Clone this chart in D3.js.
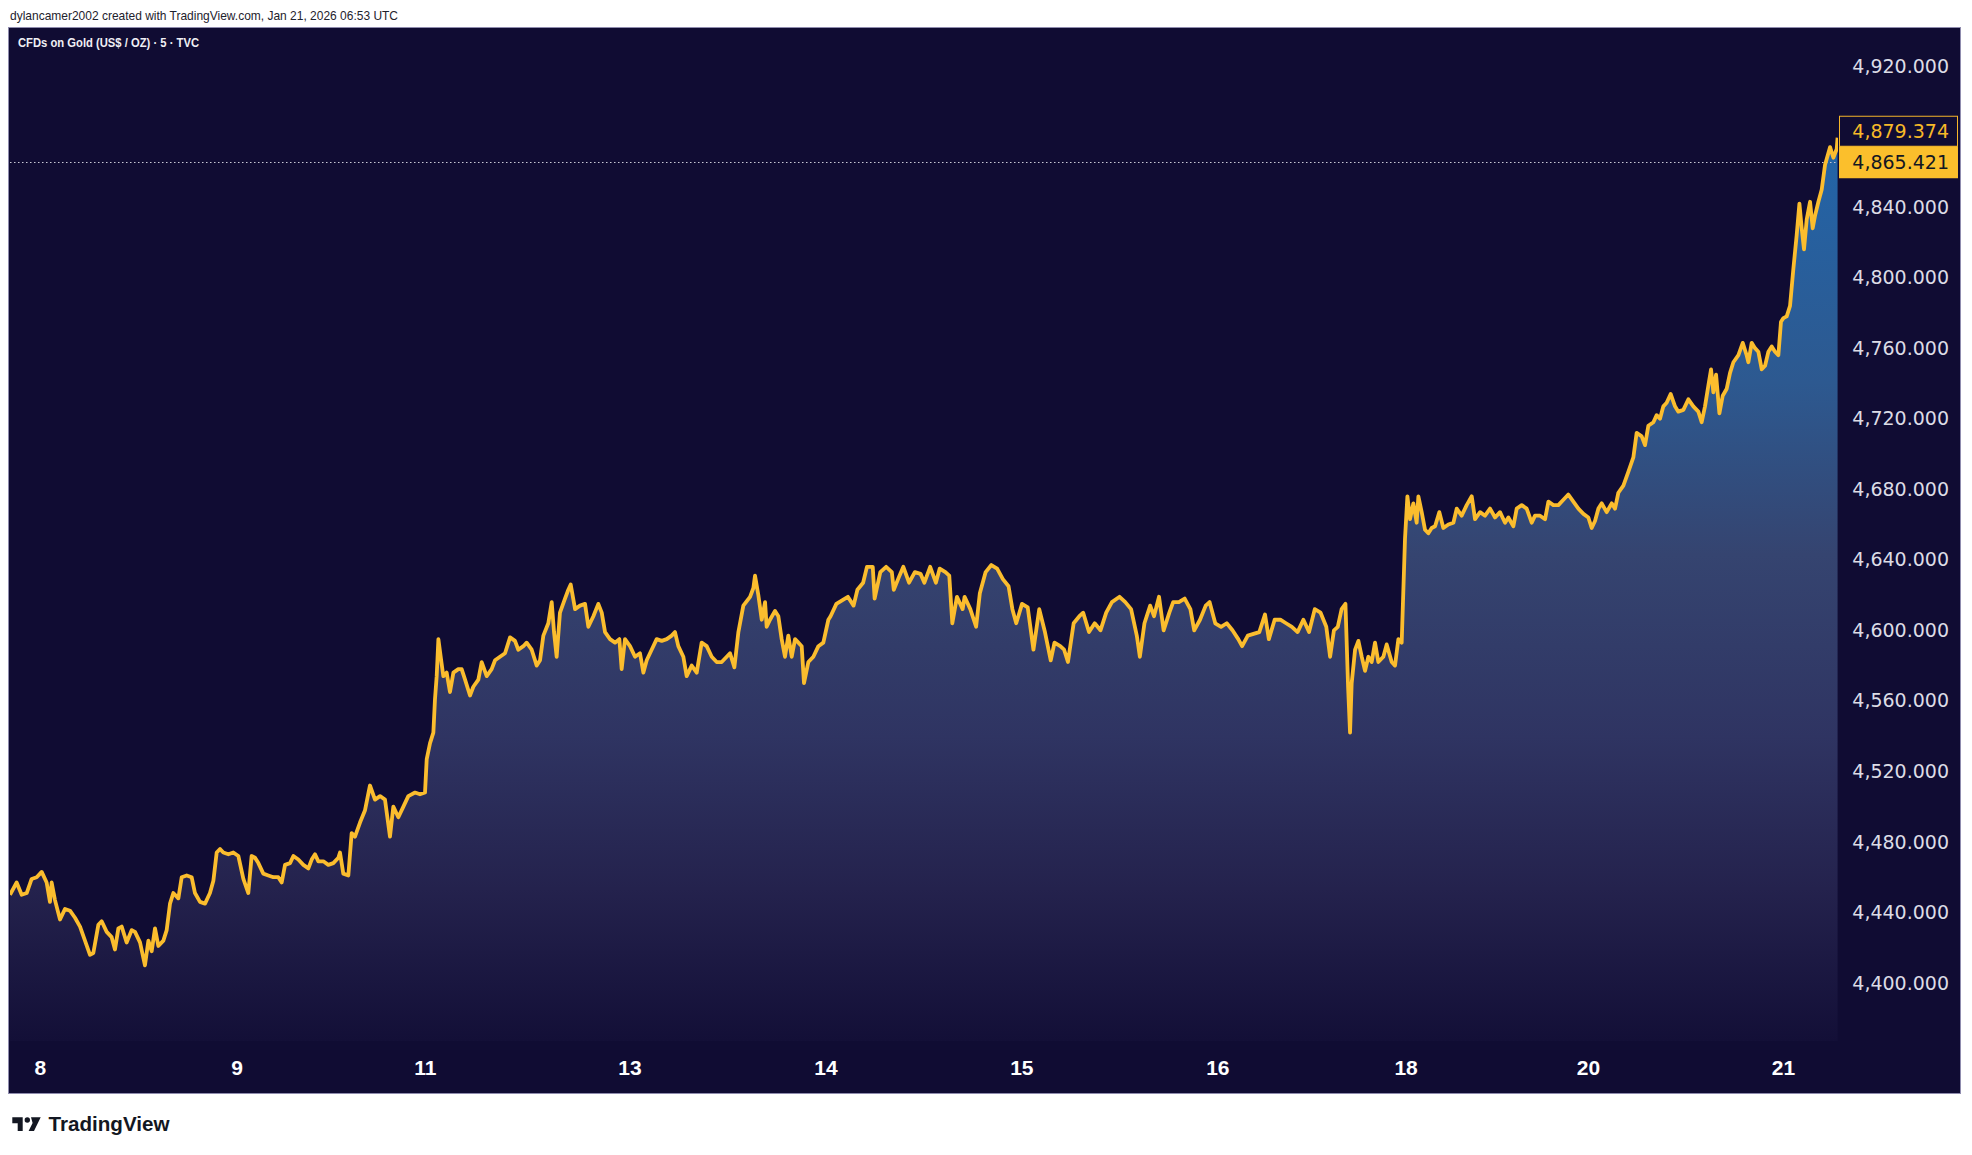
<!DOCTYPE html>
<html>
<head>
<meta charset="utf-8">
<script src="https://cdn.jsdelivr.net/npm/d3@7"></script>
<style>
body { margin: 0; background: #fff; }
svg { display: block; }
</style>
</head>
<body>
<svg id="chart" width="1972" height="1155"></svg>
<script>
// trading hours elapsed since the left edge of the chart (5 min CFD, TVC)
var hours = [
  0.0, 0.78, 1.37, 1.96, 2.54, 3.13, 3.72, 4.30, 4.69, 4.89, 5.28, 5.87, 6.46, 7.04, 7.63, 8.22, 8.80, 9.39, 9.78, 10.37,
  10.76, 11.35, 11.93, 12.32, 12.72, 13.11, 13.69, 14.28, 14.67, 15.26, 15.84, 16.24, 16.63, 17.02, 17.41, 18.0, 18.39, 18.78, 19.17, 19.76,
  20.15, 20.74, 21.32, 21.71, 22.30, 22.89, 23.47, 23.87, 24.26, 24.65, 25.04, 25.63, 26.21, 26.8, 27.39, 27.97, 28.36, 28.76, 29.15, 29.73,
  30.32, 30.91, 31.49, 31.89, 32.28, 32.87, 33.26, 33.84, 34.43, 35.02, 35.41, 35.8, 36.19, 36.78, 37.36, 37.95, 38.54, 38.73, 39.12, 39.71,
  40.1, 40.49, 41.08, 41.67, 42.25, 42.84, 43.43, 44.01, 44.6, 44.99, 45.58, 46.17, 46.75, 47.54, 48.12, 48.71, 48.91, 49.3, 49.69, 49.88,
  50.08, 50.28, 50.55, 50.86, 51.25, 51.64, 52.04, 52.62, 53.01, 53.41, 53.99, 54.38, 54.97, 55.36, 55.95, 56.53, 56.93, 57.51, 58.1, 58.69,
  59.27, 59.66, 60.25, 60.64, 61.23, 61.82, 62.21, 62.6, 63.18, 63.58, 63.85, 64.16, 64.55, 65.14, 65.53, 65.81, 66.32, 66.9, 67.49, 67.88,
  68.47, 69.05, 69.45, 69.84, 70.42, 71.01, 71.52, 71.79, 72.18, 72.77, 73.36, 73.94, 74.34, 74.73, 75.31, 75.9, 76.49, 77.08, 77.66, 78.05,
  78.44, 79.03, 79.42, 80.01, 80.6, 81.18, 81.77, 82.36, 82.94, 83.53, 84.12, 84.51, 85.02, 85.49, 86.07, 86.86, 87.25, 87.44, 87.83, 88.23,
  88.62, 88.81, 89.2, 89.79, 90.18, 90.57, 90.96, 91.35, 91.75, 92.14, 92.53, 92.92, 93.19, 93.7, 94.29, 94.88, 95.46, 96.05, 96.31, 96.99,
  97.66, 98.34, 99.01, 99.46, 100.13, 100.58, 101.26, 101.48, 102.15, 102.83, 103.5, 103.73, 104.4, 104.85, 105.52, 106.2, 106.87, 107.32, 108.0, 108.67,
  109.12, 109.79, 110.24, 110.6, 111.14, 111.81, 112.04, 112.71, 113.39, 113.83, 114.51, 115.18, 115.86, 116.53, 117.2, 117.65, 118.1, 118.78, 119.45, 120.12,
  120.8, 121.47, 122.15, 122.59, 123.27, 123.72, 124.17, 124.84, 125.51, 125.96, 126.64, 127.31, 127.99, 128.66, 129.33, 130.23, 130.9, 131.58, 132.25, 132.61,
  133.15, 133.82, 134.27, 134.86, 135.4, 136.07, 136.52, 137.19, 137.87, 138.54, 138.99, 139.67, 140.34, 140.79, 141.46, 142.14, 142.81, 143.48, 144.16, 144.61,
  145.28, 145.95, 146.63, 147.3, 147.75, 148.43, 149.1, 149.77, 150.45, 151.12, 151.8, 152.47, 153.14, 153.82, 154.49, 154.94, 155.39, 155.84, 156.29, 156.74,
  157.05, 157.28, 157.47, 157.87, 158.26, 158.65, 159.04, 159.43, 159.82, 160.21, 160.6, 161.19, 161.58, 162.17, 162.56, 162.95, 163.34, 163.73, 164.01, 164.32,
  164.71, 165.1, 165.3, 165.69, 166.08, 166.47, 166.86, 167.26, 167.76, 168.23, 168.82, 169.41, 169.8, 170.38, 170.97, 171.56, 171.95, 172.54, 173.12, 173.71,
  174.3, 174.88, 175.47, 175.86, 176.45, 176.84, 177.43, 178.01, 178.6, 178.99, 179.58, 180.17, 180.56, 181.14, 181.73, 182.32, 182.9, 183.49, 184.08, 184.67,
  185.25, 185.64, 186.03, 186.43, 186.82, 187.4, 187.99, 188.38, 188.77, 189.36, 189.95, 190.53, 190.92, 191.51, 191.9, 192.29, 192.88, 193.27, 193.66, 194.05,
  194.44, 194.91, 195.42, 195.81, 196.4, 196.99, 197.57, 198.16, 198.55, 198.94, 199.34, 199.65, 199.92, 200.24, 200.63, 201.02, 201.49, 201.88, 202.27, 202.86,
  203.37, 203.83, 204.03, 204.42, 204.81, 205.2, 205.6, 205.99, 206.38, 206.77, 207.16, 207.55, 207.86, 208.14, 208.53, 208.92, 209.31, 209.7, 210.02, 210.29,
  210.56, 210.88, 211.27, 211.58, 211.85, 212.25, 212.64, 213.03, 213.62, 214.01, 214.4, 214.5
];

// CFDs on Gold, US$ / oz, close
var prices = [
  4450, 4457, 4450, 4451, 4459, 4460, 4463, 4457, 4446, 4457, 4447, 4436, 4442, 4441, 4437, 4432, 4424, 4416, 4417, 4433,
  4435, 4429, 4426, 4419, 4431, 4432, 4423, 4430, 4429, 4423, 4410, 4424, 4418, 4431, 4421, 4424, 4430, 4445, 4451, 4448,
  4460, 4461, 4460, 4451, 4446, 4445, 4451, 4458, 4474, 4476, 4474, 4473, 4474, 4472, 4459, 4451, 4472, 4471, 4468, 4462,
  4461, 4460, 4460, 4457, 4467, 4468, 4472, 4470, 4467, 4465, 4470, 4473, 4469, 4469, 4467, 4468, 4471, 4474, 4462, 4461,
  4485, 4483, 4491, 4498, 4512, 4504, 4506, 4504, 4483, 4500, 4494, 4500, 4506, 4508, 4507, 4508, 4527, 4536, 4542, 4561,
  4574, 4595, 4585, 4574, 4576, 4565, 4576, 4578, 4578, 4572, 4563, 4568, 4572, 4582, 4574, 4578, 4583, 4585, 4587, 4596,
  4594, 4589, 4591, 4593, 4589, 4580, 4583, 4597, 4604, 4616, 4599, 4585, 4610, 4618, 4623, 4626, 4612, 4614, 4615, 4602,
  4608, 4615, 4610, 4599, 4595, 4593, 4595, 4578, 4595, 4591, 4585, 4587, 4576, 4583, 4589, 4595, 4594, 4595, 4597, 4599,
  4591, 4585, 4574, 4580, 4576, 4593, 4591, 4585, 4582, 4582, 4585, 4587, 4579, 4599, 4614, 4619, 4624, 4631, 4620, 4606,
  4616, 4602, 4606, 4611, 4608, 4595, 4585, 4597, 4585, 4595, 4593, 4591, 4570, 4582, 4585, 4591, 4593, 4606, 4608, 4615,
  4617, 4619, 4614, 4623, 4627, 4636, 4636, 4618, 4633, 4636, 4633, 4623, 4631, 4636, 4627, 4633, 4632, 4627, 4636, 4627,
  4635, 4633, 4631, 4604, 4619, 4612, 4619, 4612, 4602, 4621, 4633, 4637, 4635, 4629, 4625, 4612, 4604, 4615, 4613, 4589,
  4612, 4599, 4583, 4593, 4591, 4589, 4582, 4604, 4608, 4610, 4599, 4604, 4600, 4610, 4616, 4619, 4616, 4612, 4597, 4585,
  4604, 4614, 4608, 4619, 4600, 4610, 4616, 4616, 4618, 4612, 4600, 4606, 4614, 4616, 4604, 4602, 4604, 4600, 4595, 4591,
  4597, 4598, 4599, 4609, 4595, 4606, 4606, 4604, 4602, 4599, 4606, 4599, 4612, 4610, 4602, 4585, 4600, 4602, 4612, 4615,
  4568, 4542, 4570, 4589, 4594, 4585, 4577, 4585, 4582, 4593, 4582, 4585, 4592, 4582, 4580, 4595, 4593, 4652, 4676, 4663,
  4672, 4661, 4676, 4667, 4657, 4655, 4658, 4659, 4667, 4658, 4660, 4661, 4669, 4665, 4671, 4676, 4663, 4667, 4665, 4669,
  4664, 4667, 4661, 4664, 4659, 4669, 4671, 4669, 4661, 4665, 4665, 4663, 4673, 4671, 4671, 4674, 4677, 4673, 4669, 4666,
  4664, 4658, 4662, 4669, 4672, 4667, 4672, 4669, 4678, 4682, 4690, 4698, 4712, 4710, 4705, 4716, 4718, 4722, 4720, 4727,
  4729, 4734, 4727, 4724, 4725, 4731, 4727, 4724, 4718, 4727, 4739, 4748, 4735, 4745, 4723, 4733, 4737, 4746, 4752, 4756,
  4763, 4756, 4752, 4763, 4760, 4758, 4748, 4750, 4758, 4761, 4758, 4756, 4775, 4777, 4778, 4784, 4805, 4824, 4842, 4828,
  4816, 4833, 4843, 4828, 4835, 4843, 4850, 4864, 4874, 4868, 4873, 4879.374
];

var dayLabels = ["8", "9", "11", "13", "14", "15", "16", "18", "20", "21"];
var dayTickHours = [3.5, 26.6, 48.7, 72.7, 95.7, 118.7, 141.7, 163.8, 185.2, 208.1];
var priceTicks = [4400, 4440, 4480, 4520, 4560, 4600, 4640, 4680, 4720, 4760, 4800, 4840, 4880, 4920];
var lastPrice = 4865.421;
var highPrice = 4879.374;

var svg = d3.select("#chart");
var plot = {left: 10, right: 1838, top: 28, bottom: 1041};

var x = d3.scaleLinear().domain([0, 214.55]).range([plot.left, plot.right]);
var y = d3.scaleLinear().domain([4400, 4920]).range([983, 66]);

var data = hours.map(function (h, i) { return {h: h, p: prices[i]}; });

// header
svg.append("text")
    .attr("x", 10).attr("y", 19.5)
    .attr("font-family", "Liberation Sans, Arial, sans-serif")
    .attr("font-size", 13)
    .attr("fill", "#1e222d")
    .attr("textLength", 388)
    .attr("lengthAdjust", "spacingAndGlyphs")
    .text("dylancamer2002 created with TradingView.com, Jan 21, 2026 06:53 UTC");

// chart panel
svg.append("rect")
    .attr("x", 8.5).attr("y", 27.5)
    .attr("width", 1952).attr("height", 1066)
    .attr("fill", "#100c33")
    .attr("stroke", "#8f8cae")
    .attr("stroke-width", 1);

var defs = svg.append("defs");
defs.append("clipPath").attr("id", "plot-clip")
    .append("rect")
    .attr("x", plot.left).attr("y", plot.top)
    .attr("width", plot.right - plot.left).attr("height", plot.bottom - plot.top);

var grad = defs.append("linearGradient")
    .attr("id", "area-grad")
    .attr("gradientUnits", "userSpaceOnUse")
    .attr("x1", 0).attr("x2", 0)
    .attr("y1", plot.top).attr("y2", plot.bottom);
[[0, "#1c6bc0"], [0.1, "#2265a9"], [0.35, "#2d5990"], [0.52, "#354470"], [0.7, "#2f3462"], [0.85, "#24224d"], [1, "#130f37"]]
    .forEach(function (s) {
        grad.append("stop").attr("offset", s[0]).attr("stop-color", s[1]);
    });

var g = svg.append("g").attr("clip-path", "url(#plot-clip)");

var area = d3.area()
    .x(function (d) { return x(d.h); })
    .y0(plot.bottom)
    .y1(function (d) { return y(d.p); });

var line = d3.line()
    .x(function (d) { return x(d.h); })
    .y(function (d) { return y(d.p); });

g.append("path")
    .datum(data)
    .attr("d", area)
    .attr("fill", "url(#area-grad)");

// last price dotted line
g.append("line")
    .attr("x1", plot.left).attr("x2", plot.right)
    .attr("y1", Math.round(y(lastPrice)) + 0.5).attr("y2", Math.round(y(lastPrice)) + 0.5)
    .attr("stroke", "#c9c9d6")
    .attr("stroke-width", 1)
    .attr("stroke-dasharray", "1.5,2.5");

g.append("path")
    .datum(data)
    .attr("d", line)
    .attr("fill", "none")
    .attr("stroke", "#fbbd2e")
    .attr("stroke-width", 3.8)
    .attr("stroke-linejoin", "round");

// title
svg.append("text")
    .attr("x", 18).attr("y", 47)
    .attr("font-family", "Liberation Sans, Arial, sans-serif")
    .attr("font-size", 12.5)
    .attr("font-weight", "bold")
    .attr("fill", "#f0f0f5")
    .attr("textLength", 181)
    .attr("lengthAdjust", "spacingAndGlyphs")
    .text("CFDs on Gold (US$ / OZ) \u00b7 5 \u00b7 TVC");

// price scale
var yAxis = svg.append("g")
    .attr("transform", "translate(" + plot.right + ",0)")
    .call(d3.axisRight(y).tickValues(priceTicks).tickSize(0).tickFormat(d3.format(",.3f")));
yAxis.select(".domain").remove();
yAxis.selectAll("text")
    .attr("x", 111)
    .attr("text-anchor", "end")
    .attr("font-family", "DejaVu Sans, Verdana, sans-serif")
    .attr("font-size", 19)
    .attr("fill", "#dcdce6");
yAxis.selectAll(".tick").filter(function (d) { return d === 4880; }).remove();

// price tags
var lastY = y(lastPrice);
var highY = Math.min(y(highPrice), lastY - 31);
svg.append("rect")
    .attr("x", 1839.5).attr("y", highY - 15)
    .attr("width", 118).attr("height", 30)
    .attr("fill", "#100c33")
    .attr("stroke", "#f5b52a");
svg.append("text")
    .attr("x", 1949).attr("y", highY).attr("dy", "0.35em")
    .attr("text-anchor", "end")
    .attr("font-family", "DejaVu Sans, Verdana, sans-serif")
    .attr("font-size", 19)
    .attr("fill", "#f7b928")
    .text(d3.format(",.3f")(highPrice));
svg.append("rect")
    .attr("x", 1839).attr("y", lastY - 16)
    .attr("width", 119).attr("height", 32)
    .attr("fill", "#fbbf2c");
svg.append("text")
    .attr("x", 1949).attr("y", lastY).attr("dy", "0.35em")
    .attr("text-anchor", "end")
    .attr("font-family", "DejaVu Sans, Verdana, sans-serif")
    .attr("font-size", 19)
    .attr("fill", "#131722")
    .text(d3.format(",.3f")(lastPrice));

// time scale
var xAxis = svg.append("g")
    .attr("transform", "translate(0," + plot.bottom + ")")
    .call(d3.axisBottom(x).tickValues(dayTickHours).tickSize(0).tickFormat(function (d, i) { return dayLabels[i]; }));
xAxis.select(".domain").remove();
xAxis.selectAll("text")
    .attr("y", 27).attr("dy", "0.35em")
    .attr("font-family", "Liberation Sans, Arial, sans-serif")
    .attr("font-size", 21)
    .attr("font-weight", "bold")
    .attr("fill", "#ffffff");

// footer logo
var logo = svg.append("g").attr("fill", "#131722");
logo.append("path").attr("d", "M12.3,1117.3 H22.7 V1131 H17.7 V1123.3 H12.3 Z");
logo.append("circle").attr("cx", 27.3).attr("cy", 1120).attr("r", 2.7);
logo.append("path").attr("d", "M31,1117.3 H40.7 L34,1131 H28.6 L32.6,1123 Z");
logo.append("text")
    .attr("x", 48.5).attr("y", 1131)
    .attr("font-family", "Liberation Sans, Arial, sans-serif")
    .attr("font-size", 20)
    .attr("font-weight", "bold")
    .attr("textLength", 121)
    .attr("lengthAdjust", "spacingAndGlyphs")
    .text("TradingView");
</script>
</body>
</html>
